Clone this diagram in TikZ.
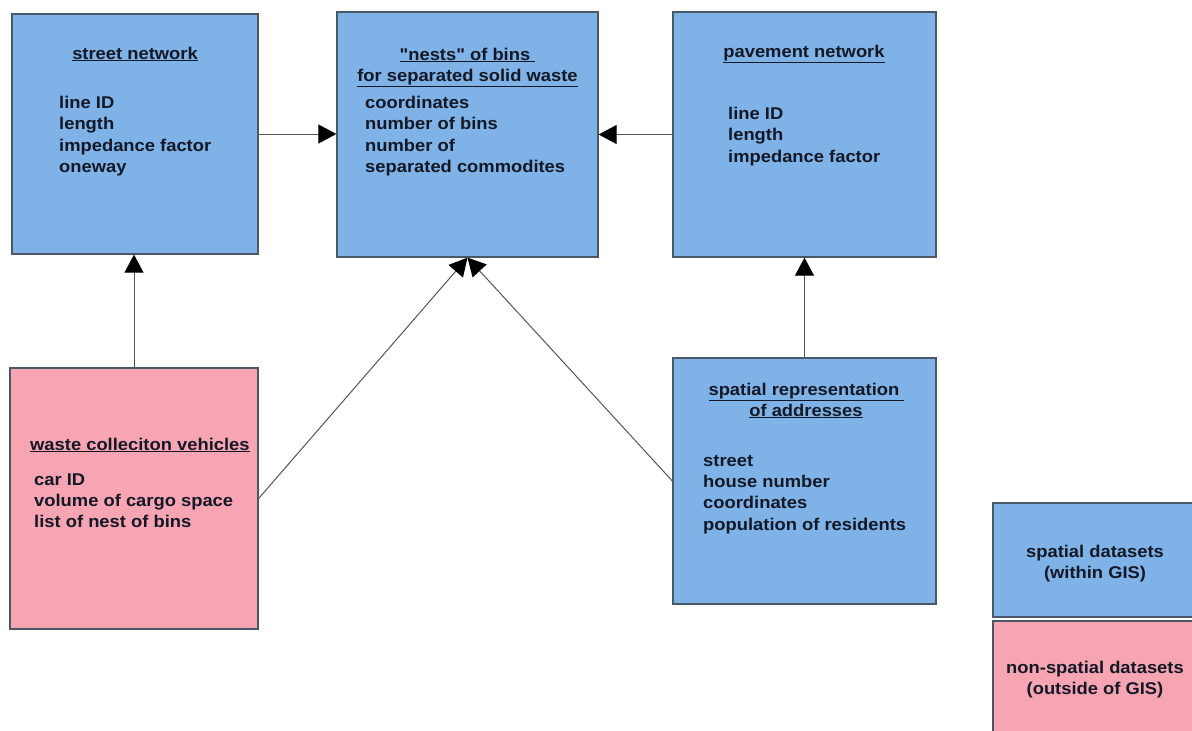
\documentclass[tikz,border=0pt]{standalone}
\usepackage{fontspec}
\setmainfont{Liberation Sans}[FakeStretch=1.08,Ligatures=TeXOff]
\usetikzlibrary{arrows.meta}
\definecolor{gisblue}{HTML}{7FB2E6}
\definecolor{gispink}{HTML}{F7A5B3}
\definecolor{boxline}{HTML}{4A5766}
\definecolor{linkgray}{HTML}{555555}
\definecolor{txt}{HTML}{141826}
\begin{document}
\begin{tikzpicture}[x=1pt,y=-1pt,font=\fontsize{17}{21.5}\selectfont\bfseries,text=txt,
		box/.style={draw=boxline,line width=1.3pt,inner sep=0pt},
		link/.style={draw=linkgray,line width=1pt,-{Triangle[length=18pt,width=19pt,color=black]}}]
	\useasboundingbox (0,0) rectangle (1192,731);
	% boxes
	\foreach \n/\c/\x/\y/\w/\h in {street/gisblue/135/134/246/240,nests/gisblue/467.5/134.5/261/245,pave/gisblue/804.5/134.5/263/245,waste/gispink/134/498.5/248/261,addr/gisblue/804.5/481/263/246,legsp/gisblue/1096.5/560/207/114,legns/gispink/1096.5/683/207/124}
		\node[box,fill=\c,minimum width=\w pt,minimum height=\h pt] (\n) at (\x,\y) {};
	% titles
	\foreach \x/\y/\gt[count=\i] in {135/59/street network,467.5/60/"nests" of bins\ ,467.5/81/for separated solid waste,804/57/pavement network,806.5/395/spatial representation\ ,806/416/of addresses}
		\path (\x,\y) node[anchor=base,inner sep=0pt](title\i){\underline{\gt}};
	\node[anchor=base west,inner sep=0pt] (title7) at (30,450) {\underline{waste colleciton vehicles}};
	% attributes
	\foreach \x/\y/\gt[count=\i] in {59/108/line ID,59/129.5/length,59/151/impedance factor,59/172.5/oneway,
		365/108/coordinates,365/129.5/number of bins,365/151/number of,365/172.5/separated commodites,
		728/119/line ID,728/140.5/length,728/162/impedance factor,
		34/485/car ID,34/506/volume of cargo space,34/527/list of nest of bins,
		703/466/street,703/487/house number,703/508.5/coordinates,703/530/population of residents}
		\path (\x,\y) node[anchor=base west,inner sep=0pt](attr\i){\gt};
	% legend
	\foreach \x/\y/\gt[count=\i] in {1095/557/spatial datasets,1095/578/(within GIS),1095/673/non-spatial datasets,1095/694/(outside of GIS)}
		\path (\x,\y) node[anchor=base,inner sep=0pt](leg\i){\gt};
	% relations
	\draw[link] (street.east)--(street.east-|nests.west);
	\draw[link] (pave.west)--(pave.west-|nests.east);
	\draw[link] (waste.north)--(waste.north|-street.south);
	\draw[link] (addr.north)--(pave.south);
	\draw[link] (waste.east)--(nests.south);
	\draw[link] (addr.west)--(nests.south);
\end{tikzpicture}
\end{document}
